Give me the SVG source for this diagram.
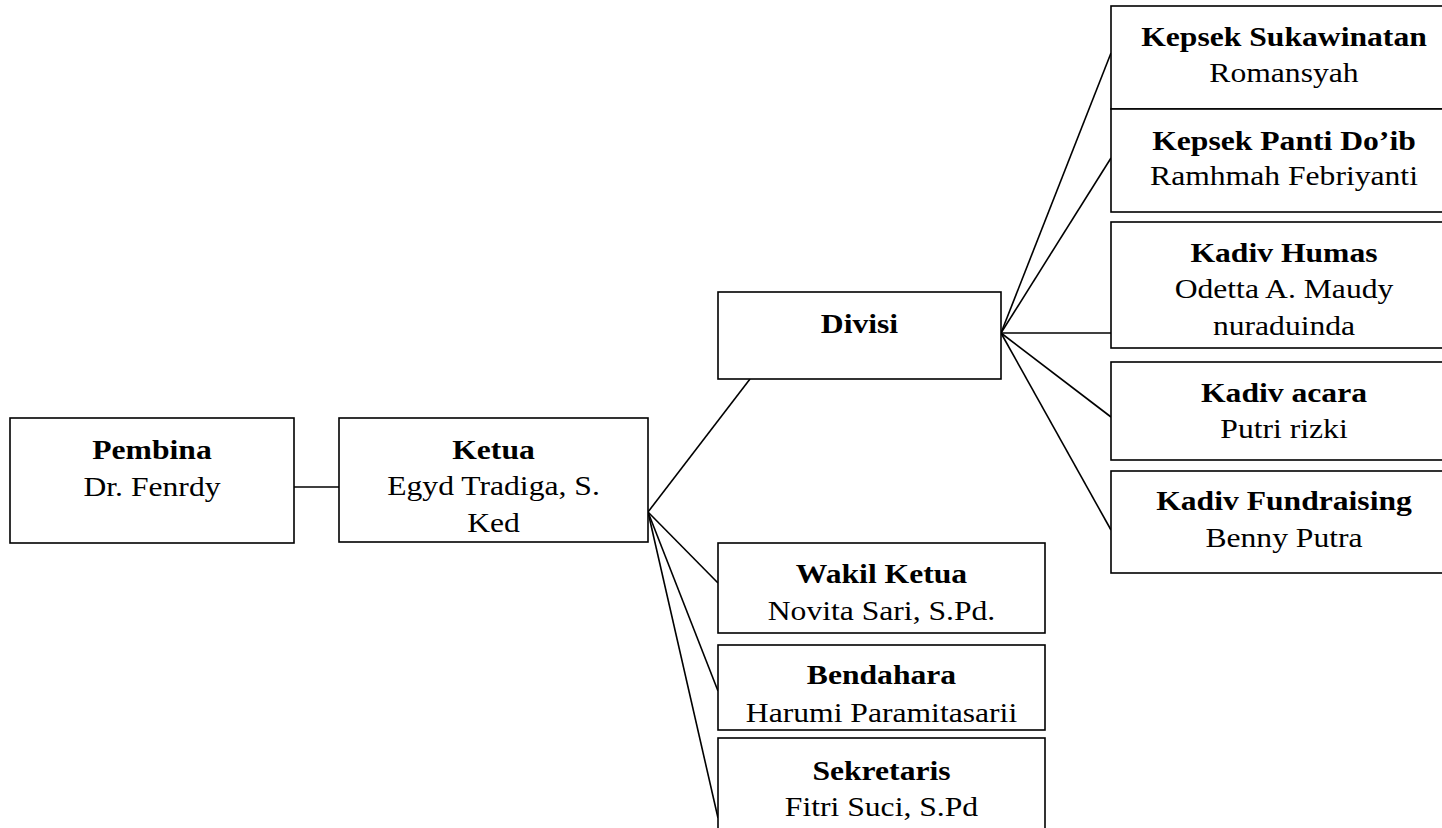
<svg xmlns="http://www.w3.org/2000/svg" width="1442" height="828" viewBox="0 0 1442 828">
<style>
rect{fill:#fff;stroke:#000;stroke-width:1.6}
line{stroke:#000;stroke-width:1.6}
text{font-family:"Liberation Serif","Times New Roman",serif;font-size:28px;text-anchor:middle;fill:#000}
.b{font-weight:bold}
</style>
<rect x="0" y="0" width="1442" height="828" style="fill:#fff;stroke:none"/>
<g id="connectors">
<line x1="294" y1="487" x2="339" y2="487"/>
<line x1="648" y1="512" x2="750" y2="379"/>
<line x1="648" y1="512" x2="718" y2="583"/>
<line x1="648" y1="512" x2="718" y2="691"/>
<line x1="648" y1="512" x2="718" y2="818"/>
<line x1="1001" y1="333" x2="1111" y2="53"/>
<line x1="1001" y1="333" x2="1111" y2="158"/>
<line x1="1001" y1="333" x2="1111" y2="333"/>
<line x1="1001" y1="333" x2="1111" y2="417"/>
<line x1="1001" y1="333" x2="1111" y2="530"/>
</g>
<g id="pembina">
<rect x="10" y="418" width="284" height="125"/>
<text class="b" transform="translate(152 459) scale(1.13 1)">Pembina</text>
<text transform="translate(152 496) scale(1.13 1)">Dr. Fenrdy</text>
</g>
<g id="ketua">
<rect x="339" y="418" width="309" height="124"/>
<text class="b" transform="translate(493.5 459) scale(1.13 1)">Ketua</text>
<text transform="translate(493.5 495) scale(1.13 1)">Egyd Tradiga, S.</text>
<text transform="translate(493.5 532) scale(1.13 1)">Ked</text>
</g>
<g id="divisi">
<rect x="718" y="292" width="283" height="87"/>
<text class="b" transform="translate(859.5 333) scale(1.13 1)">Divisi</text>
</g>
<g id="wakil">
<rect x="718" y="543" width="327" height="90"/>
<text class="b" transform="translate(881.5 583) scale(1.13 1)">Wakil Ketua</text>
<text transform="translate(881.5 620) scale(1.13 1)">Novita Sari, S.Pd.</text>
</g>
<g id="bendahara">
<rect x="718" y="645" width="327" height="85"/>
<text class="b" transform="translate(881.5 684) scale(1.13 1)">Bendahara</text>
<text transform="translate(881.5 722) scale(1.13 1)">Harumi Paramitasarii</text>
</g>
<g id="sekretaris">
<rect x="718" y="738" width="327" height="100"/>
<text class="b" transform="translate(881.5 780) scale(1.13 1)">Sekretaris</text>
<text transform="translate(881.5 816) scale(1.13 1)">Fitri Suci, S.Pd</text>
</g>
<g id="kepsek-sukawinatan">
<rect x="1111" y="6" width="346" height="103"/>
<text class="b" transform="translate(1284 46) scale(1.13 1)">Kepsek Sukawinatan</text>
<text transform="translate(1284 82) scale(1.13 1)">Romansyah</text>
</g>
<g id="kepsek-panti">
<rect x="1111" y="109" width="346" height="103"/>
<text class="b" transform="translate(1284 150) scale(1.13 1)">Kepsek Panti Do’ib</text>
<text transform="translate(1284 185) scale(1.13 1)">Ramhmah Febriyanti</text>
</g>
<g id="kadiv-humas">
<rect x="1111" y="222" width="346" height="126"/>
<text class="b" transform="translate(1284 262) scale(1.13 1)">Kadiv Humas</text>
<text transform="translate(1284 298) scale(1.13 1)">Odetta A. Maudy</text>
<text transform="translate(1284 335) scale(1.13 1)">nuraduinda</text>
</g>
<g id="kadiv-acara">
<rect x="1111" y="362" width="346" height="98"/>
<text class="b" transform="translate(1284 402) scale(1.13 1)">Kadiv acara</text>
<text transform="translate(1284 438) scale(1.13 1)">Putri rizki</text>
</g>
<g id="kadiv-fundraising">
<rect x="1111" y="471" width="346" height="102"/>
<text class="b" transform="translate(1284 510) scale(1.13 1)">Kadiv Fundraising</text>
<text transform="translate(1284 547) scale(1.13 1)">Benny Putra</text>
</g>
</svg>
